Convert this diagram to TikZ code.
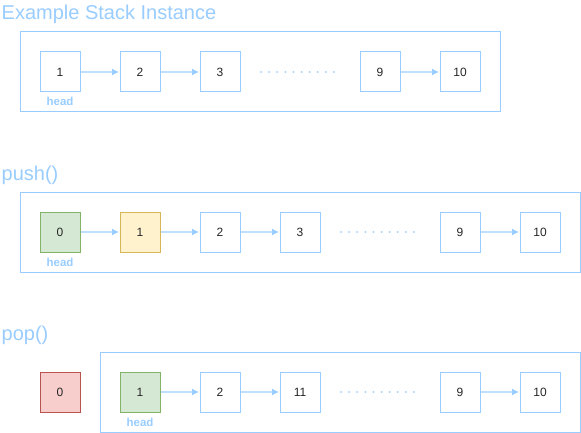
\documentclass[tikz,border=0pt]{standalone}
\usepackage{fontspec}
\setmainfont{Liberation Sans}
\usetikzlibrary{arrows.meta}
\definecolor{lb}{HTML}{99CCFF}
\definecolor{lbl}{HTML}{BFDFFF}
\definecolor{gfill}{HTML}{D5E8D4}
\definecolor{gdraw}{HTML}{82B366}
\definecolor{yfill}{HTML}{FFF2CC}
\definecolor{ydraw}{HTML}{D6B656}
\definecolor{rfill}{HTML}{F8CECC}
\definecolor{rdraw}{HTML}{B85450}
\tikzset{
  nodebox/.style={draw=lb, fill=white, line width=1pt, minimum width=40pt, minimum height=40pt, inner sep=0pt, font=\fontsize{12}{14}\selectfont, text=black!85},
  greenbox/.style={nodebox, draw=gdraw, fill=gfill},
  yellowbox/.style={nodebox, draw=ydraw, fill=yfill},
  redbox/.style={nodebox, draw=rdraw, fill=rfill},
  container/.style={draw=lb, line width=1pt, minimum width=#1, minimum height=80pt, inner sep=0pt},
  title/.style={anchor=base west, inner sep=0pt, text=lb, font=\fontsize{20}{24}\selectfont},
  headlbl/.style={anchor=base, inner sep=0pt, text=lb, font=\bfseries\fontsize{11.5}{13}\selectfont},
  link/.style={draw=lbl, line width=1.6pt, -{Latex[length=7pt,width=7pt,fill=lb,color=lb]}, shorten >=0.5pt},
  dotmark/.style={fill=lb, draw=none, circle, inner sep=0pt, minimum size=2pt}
}
\begin{document}
\begin{tikzpicture}[x=1pt,y=-1pt]
\useasboundingbox (0,0) rectangle (581,433);
% ---------- Example Stack Instance
\node[title] (t1) at (1.5,20) {Example Stack Instance};
\node[container=480pt] (c1) at (260,72) {};
\node[nodebox] (a1) at (60,72) {1};
\node[nodebox] (a2) at (140,72) {2};
\node[nodebox] (a3) at (220,72) {3};
\node[nodebox] (a9) at (380,72) {9};
\node[nodebox] (a10) at (460,72) {10};
\node[headlbl] (h1) at (60,106) {head};
\draw[link] (a1) -- (a2);
\draw[link] (a2) -- (a3);
\draw[link] (a9) -- (a10);
\foreach \i in {0,...,9} \node[dotmark] (da\i) at (261+8.1*\i,72) {};
% ---------- push()
\node[title] (t2) at (1.5,180) {push()};
\node[container=560pt] (c2) at (300,232) {};
\node[greenbox] (b0) at (60,232) {0};
\node[yellowbox] (b1) at (140,232) {1};
\node[nodebox] (b2) at (220,232) {2};
\node[nodebox] (b3) at (300,232) {3};
\node[nodebox] (b9) at (460,232) {9};
\node[nodebox] (b10) at (540,232) {10};
\node[headlbl] (h2) at (60,266) {head};
\draw[link] (b0) -- (b1);
\draw[link] (b1) -- (b2);
\draw[link] (b2) -- (b3);
\draw[link] (b9) -- (b10);
\foreach \i in {0,...,9} \node[dotmark] (db\i) at (341+8.1*\i,232) {};
% ---------- pop()
\node[title] (t3) at (1.5,340) {pop()};
\node[container=480pt] (c3) at (340,392) {};
\node[redbox] (p0) at (60,392) {0};
\node[greenbox] (p1) at (140,392) {1};
\node[nodebox] (p2) at (220,392) {2};
\node[nodebox] (p11) at (300,392) {11};
\node[nodebox] (p9) at (460,392) {9};
\node[nodebox] (p10) at (540,392) {10};
\node[headlbl] (h3) at (140,426) {head};
\draw[link] (p1) -- (p2);
\draw[link] (p2) -- (p11);
\draw[link] (p9) -- (p10);
\foreach \i in {0,...,9} \node[dotmark] (dc\i) at (341+8.1*\i,392) {};
\end{tikzpicture}
\end{document}
